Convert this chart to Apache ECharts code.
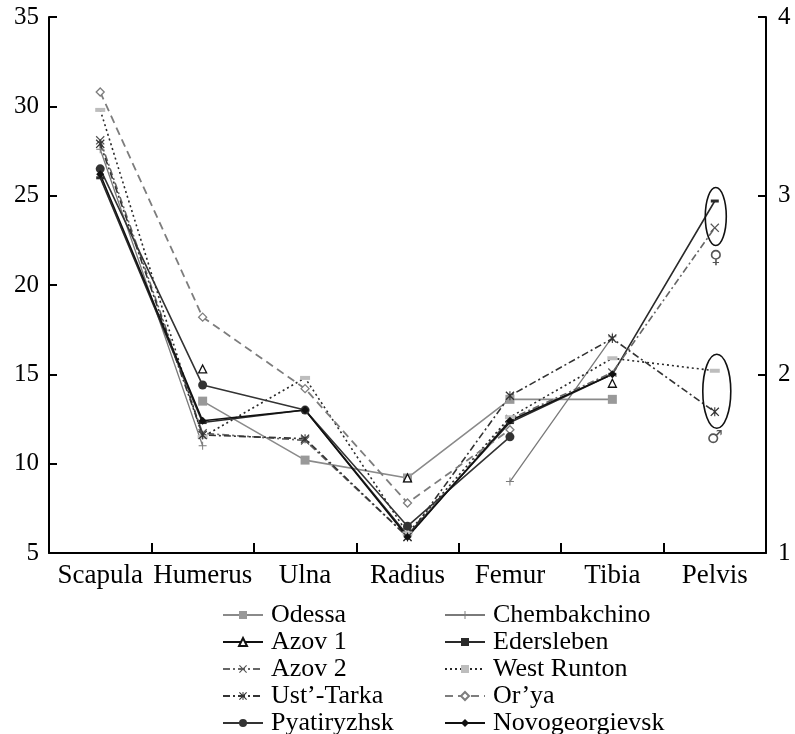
<!DOCTYPE html>
<html><head><meta charset="utf-8">
<script src="https://cdn.jsdelivr.net/npm/echarts@6/dist/echarts.min.js"></script>
<style>html,body{margin:0;padding:0;background:#fff}#c{width:795px;height:734px}</style>
</head><body><div id="c"></div>
<script>
const categories = ['Scapula','Humerus','Ulna','Radius','Femur','Tibia','Pelvis'];
const leftTicks = [5, 35, 5];   // min, max, interval
const rightTicks = [1, 4, 1];
const odessa        = [null, 13.5, 10.2, 9.2, 13.6, 13.6, null];
const chembakchino  = [27.6, 11.0, null, null, 9.0, 17.1, null];
const azov1         = [null, 15.3, null, 9.2, null, 14.5, null];
const edersleben    = [26.0, 12.3, 13.0, 6.0, 12.3, 15.0, 24.7];
const azov2         = [28.1, 11.7, 11.3, 5.9, 12.5, 15.1, 23.2];
const westRunton    = [29.8, 11.5, 14.8, 6.1, 12.6, 15.9, 15.2];
const ustTarka      = [27.9, 11.6, 11.4, 5.9, 13.8, 17.0, 12.9];
const orya          = [30.8, 18.2, 14.2, 7.8, 11.9, null, null];
const pyatiryzhsk   = [26.5, 14.4, 13.0, 6.5, 11.5, null, null];
const novogeorgievsk= [26.2, 12.4, 13.0, 5.9, 12.4, 15.0, null];

const SERIF = '"Liberation Serif","DejaVu Serif",serif';
const plusPath = 'path://M4.4,0h1.2v10h-1.2z M0,4.4h10v1.2h-10z';
const crossPath = 'path://M0,1L1,0L5,4L9,0L10,1L6,5L10,9L9,10L5,6L1,10L0,9L4,5Z';
const starPath = 'path://M0,1L1,0L5,4L9,0L10,1L6,5L10,9L9,10L5,6L1,10L0,9L4,5Z M4.4,0h1.2v10h-1.2z';

function mk(name, data, color, width, type, symbol, size, mColor, mBorder) {
  return {
    name, type: 'line', data, yAxisIndex: 0,
    symbol, symbolSize: size,
    showSymbol: true,
    lineStyle: { color, width, type },
    itemStyle: { color: mColor || color, borderColor: mBorder || mColor || color, borderWidth: mBorder ? 1.3 : 0 },
    emphasis: { disabled: true },
    connectNulls: false,
    animation: false
  };
}
const series = [
  mk('Odessa', odessa, '#8a8a8a', 1.6, 'solid', 'rect', 9, '#999999'),
  mk('Chembakchino', chembakchino, '#7a7a7a', 1.3, 'solid', plusPath, 8, '#7a7a7a'),
  mk('Azov 1', azov1, '#111111', 1.6, 'solid', 'triangle', 8, '#ffffff', '#111111'),
  mk('Edersleben', edersleben, '#2a2a2a', 1.6, 'solid', 'rect', [8,3], '#2a2a2a'),
  mk('Azov 2', azov2, '#666666', 1.6, [7,3,2,3], crossPath, 9, '#555555'),
  mk('West Runton', westRunton, '#2a2a2a', 1.6, [2,3], 'rect', [10,4], '#bdbdbd'),
  mk('Ust\u2019-Tarka', ustTarka, '#333333', 1.6, [7,3,2,3], starPath, 9, '#333333'),
  mk('Or\u2019ya', orya, '#7d7d7d', 1.8, [8,5], 'diamond', 8, '#ffffff', '#7d7d7d'),
  mk('Pyatiryzhsk', pyatiryzhsk, '#333333', 1.6, 'solid', 'circle', 9, '#333333'),
  mk('Novogeorgievsk', novogeorgievsk, '#111111', 1.6, 'solid', 'diamond', 8, '#111111')
];
series.push({ type: 'line', yAxisIndex: 1, data: [], silent: true });

const legendText = { fontFamily: SERIF, fontSize: 26, color: '#000', lineHeight: 24, padding: [0, 0, 0, 3] };
const legendBase = {
  orient: 'vertical', itemWidth: 40, itemHeight: 10, itemGap: 1, height: 200, padding: 0,
  textStyle: legendText, selectedMode: false
};
const chart = echarts.init(document.getElementById('c'), null, { renderer: 'canvas' });
const axisLine = { show: true, onZero: false, lineStyle: { color: '#000', width: 2 } };
chart.setOption({
  animation: false,
  backgroundColor: '#fff',
  grid: { left: 49, right: 29, top: 17, bottom: 181, containLabel: false },
  xAxis: {
    type: 'category', data: categories, boundaryGap: true,
    axisLine, axisTick: { show: true, inside: true, length: 10, lineStyle: { color: '#000', width: 2 } },
    axisLabel: { color: '#000', fontFamily: SERIF, fontSize: 27, margin: 9, interval: 0 },
    splitLine: { show: false }
  },
  yAxis: [
    { type: 'value', min: leftTicks[0], max: leftTicks[1], interval: leftTicks[2], position: 'left',
      axisLine, axisTick: { show: true, inside: true, length: 8, lineStyle: { color: '#000', width: 2 } },
      axisLabel: { color: '#000', fontFamily: SERIF, fontSize: 25, margin: 10 },
      splitLine: { show: false } },
    { type: 'value', min: rightTicks[0], max: rightTicks[1], interval: rightTicks[2], position: 'right',
      axisLine, axisTick: { show: true, inside: true, length: 8, lineStyle: { color: '#000', width: 2 } },
      axisLabel: { color: '#000', fontFamily: SERIF, fontSize: 25, margin: 12 },
      splitLine: { show: false } }
  ],
  legend: [
    Object.assign({}, legendBase, { left: 222, top: 602,
      data: ['Odessa','Azov 1','Azov 2','Ust\u2019-Tarka','Pyatiryzhsk'] }),
    Object.assign({}, legendBase, { left: 444, top: 602,
      data: ['Chembakchino','Edersleben','West Runton','Or\u2019ya','Novogeorgievsk'] })
  ],
  series
});

function addAnnotations() {
  const pi = categories.length - 1;
  const fTop = chart.convertToPixel({ xAxisIndex: 0, yAxisIndex: 0 }, [pi, edersleben[pi]]);
  const fBot = chart.convertToPixel({ xAxisIndex: 0, yAxisIndex: 0 }, [pi, azov2[pi]]);
  const mTop = chart.convertToPixel({ xAxisIndex: 0, yAxisIndex: 0 }, [pi, westRunton[pi]]);
  const mBot = chart.convertToPixel({ xAxisIndex: 0, yAxisIndex: 0 }, [pi, ustTarka[pi]]);
  const fc = [fTop[0], (fTop[1] + fBot[1]) / 2];
  const mc = [mTop[0], (mTop[1] + mBot[1]) / 2];
  chart.setOption({
    graphic: [
      { type: 'ellipse', shape: { cx: fc[0] + 1, cy: fc[1] + 2, rx: 10.5, ry: 29 },
        style: { fill: 'none', stroke: '#111', lineWidth: 1.6 }, z: 100 },
      { type: 'ellipse', shape: { cx: mc[0] + 2, cy: mc[1], rx: 14, ry: 37 },
        style: { fill: 'none', stroke: '#111', lineWidth: 1.6 }, z: 100 },
      { type: 'text', x: fc[0] + 1, y: fc[1] + 44, style: { text: '\u2640', fill: '#555',
        font: '18px "DejaVu Sans"', align: 'center', verticalAlign: 'middle' }, z: 100 },
      { type: 'text', x: mc[0], y: mc[1] + 47, style: { text: '\u2642', fill: '#555',
        font: '18px "DejaVu Sans"', align: 'center', verticalAlign: 'middle' }, z: 100 }
    ]
  });
}
addAnnotations();
</script></body></html>
